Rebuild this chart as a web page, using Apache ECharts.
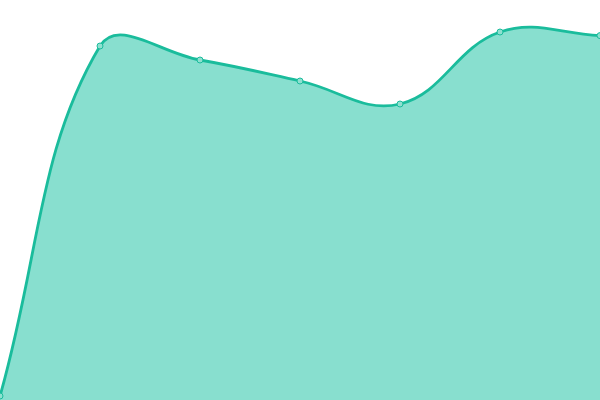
<!DOCTYPE html>
<html><head><meta charset="utf-8">
<script src="https://cdn.jsdelivr.net/npm/echarts@6/dist/echarts.min.js"></script>
<style>html,body{margin:0;padding:0;background:#fff}#c{width:600px;height:400px}</style>
</head><body><div id="c"></div>
<script>
var categories = ['A', 'B', 'C', 'D', 'E', 'F', 'G'];
var values = [1, 88.5, 85, 79.75, 74, 92, 91.1];
var tension = 0.4;

function splinePath(pts) {
  var n = pts.length;
  var cps = [];
  for (var i = 0; i < n; i++) {
    var prev = pts[i > 0 ? i - 1 : i];
    var cur = pts[i];
    var next = pts[i < n - 1 ? i + 1 : i];
    var d01 = Math.hypot(cur[0] - prev[0], cur[1] - prev[1]);
    var d12 = Math.hypot(next[0] - cur[0], next[1] - cur[1]);
    var s01 = d01 / (d01 + d12), s12 = d12 / (d01 + d12);
    if (isNaN(s01)) s01 = 0;
    if (isNaN(s12)) s12 = 0;
    var fa = tension * s01, fb = tension * s12;
    cps.push({
      prev: [cur[0] - fa * (next[0] - prev[0]), cur[1] - fa * (next[1] - prev[1])],
      next: [cur[0] + fb * (next[0] - prev[0]), cur[1] + fb * (next[1] - prev[1])]
    });
  }
  var d = 'M' + pts[0][0] + ' ' + pts[0][1];
  for (var j = 1; j < n; j++) {
    var c1 = cps[j - 1].next, c2 = cps[j].prev;
    d += ' C' + c1[0] + ' ' + c1[1] + ' ' + c2[0] + ' ' + c2[1] + ' ' + pts[j][0] + ' ' + pts[j][1];
  }
  return d;
}

var chart = echarts.init(document.getElementById('c'));
chart.setOption({
  animation: false,
  grid: { left: 0, right: 0, top: 0, bottom: 0 },
  xAxis: { type: 'category', data: categories, boundaryGap: false, show: false },
  yAxis: { type: 'value', min: 0, max: 100, show: false },
  series: [{
    type: 'custom',
    z: 1,
    clip: false,
    data: [[0, 0]],
    renderItem: function (params, api) {
      var pts = categories.map(function (c, i) { return api.coord([c, values[i]]); });
      var bottom = params.coordSys.y + params.coordSys.height;
      var curve = splinePath(pts);
      var area = curve + ' L' + pts[pts.length - 1][0] + ' ' + bottom + ' L' + pts[0][0] + ' ' + bottom + ' Z';
      return {
        type: 'group',
        children: [
          { type: 'path', shape: { pathData: area }, style: { fill: '#88dfcf', stroke: null } },
          { type: 'path', shape: { pathData: curve }, style: { fill: null, stroke: '#1abc9c', lineWidth: 2.8 } }
        ]
      };
    }
  }, {
    type: 'line',
    z: 2,
    data: values,
    symbol: 'circle',
    symbolSize: 6,
    lineStyle: { width: 0, opacity: 0 },
    itemStyle: { color: '#8fe0d0', borderColor: '#1abc9c', borderWidth: 1 }
  }]
});
</script></body></html>
